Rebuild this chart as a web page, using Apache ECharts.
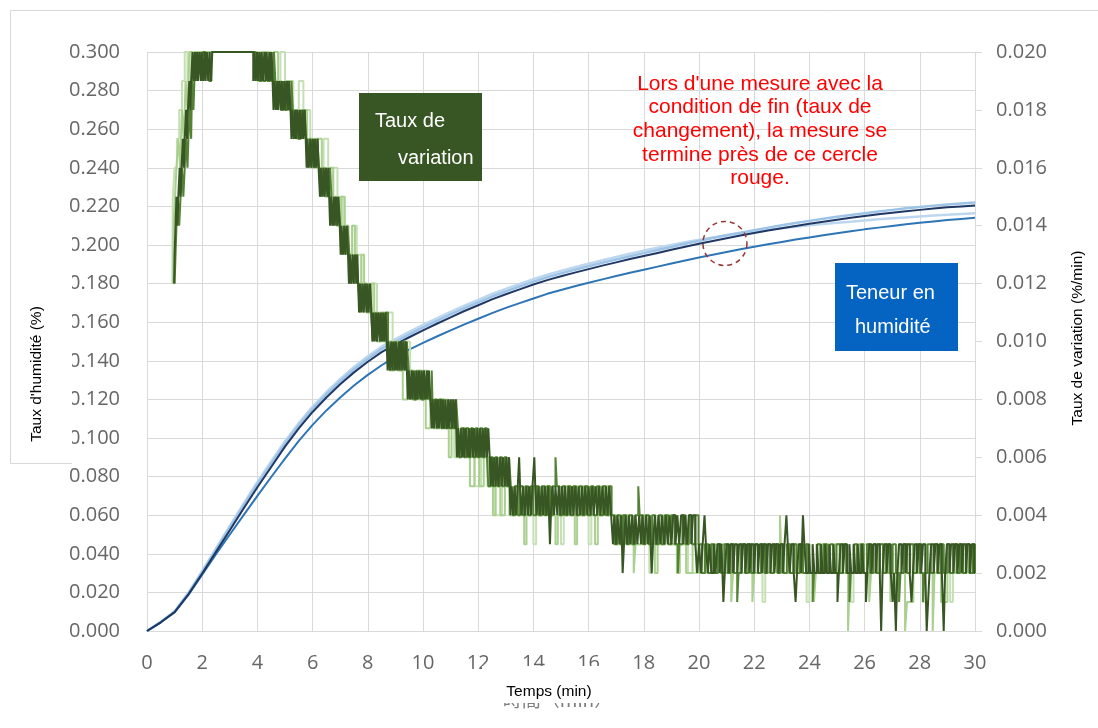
<!DOCTYPE html>
<html>
<head>
<meta charset="utf-8">
<script src="https://cdn.jsdelivr.net/npm/echarts@6/dist/echarts.min.js"></script>
<style>
  html, body { margin: 0; padding: 0; background: #ffffff; }
  #chart { width: 1098px; height: 728px; }
</style>
</head>
<body>
<div id="chart"></div>
<script>
// Sampling times of the moisture curves (min)
const minutes = [0,0.5,1,1.5,2,2.5,3,3.5,4,4.5,5,5.5,6,6.5,7,7.5,8,8.5,9,9.5,10,10.5,11,11.5,12,12.5,13,13.5,14,14.5,15,15.5,16,16.5,17,17.5,18,18.5,19,19.5,20,20.5,21,21.5,22,22.5,23,23.5,24,24.5,25,25.5,26,26.5,27,27.5,28,28.5,29,29.5,30];

// Moisture content (%) of the four runs
const moistureNavy = [0,0.0045,0.0098,0.0190,0.0298,0.0410,0.0522,0.0635,0.0745,0.0850,0.0955,0.1050,0.1135,0.1210,0.1278,0.1340,0.1395,0.1445,0.1485,0.1522,0.1558,0.1592,0.1625,0.1658,0.1688,0.1718,0.1745,0.1770,0.1795,0.1818,0.1838,0.1857,0.1875,0.1893,0.1910,0.1927,0.1943,0.1959,0.1975,0.1991,0.2006,0.2021,0.2035,0.2049,0.2062,0.2075,0.2087,0.2099,0.2110,0.2121,0.2131,0.2141,0.2150,0.2159,0.2167,0.2175,0.2182,0.2189,0.2195,0.2200,0.2205];
const moistureBlue = [0,0.0045,0.0097,0.0187,0.0292,0.0398,0.0500,0.0600,0.0700,0.0798,0.0893,0.0985,0.1068,0.1143,0.1210,0.1272,0.1327,0.1377,0.1420,0.1458,0.1493,0.1526,0.1558,0.1589,0.1618,0.1647,0.1674,0.1699,0.1723,0.1747,0.1767,0.1786,0.1804,0.1822,0.1839,0.1856,0.1872,0.1888,0.1904,0.1920,0.1935,0.1950,0.1964,0.1978,0.1991,0.2004,0.2016,0.2028,0.2039,0.2050,0.2061,0.2071,0.2081,0.2090,0.2099,0.2107,0.2115,0.2122,0.2129,0.2135,0.2141];
const moistureSky = [0,0.0046,0.0100,0.0195,0.0306,0.0422,0.0536,0.0650,0.0761,0.0866,0.0971,0.1066,0.1151,0.1226,0.1294,0.1356,0.1411,0.1461,0.1500,0.1537,0.1573,0.1607,0.1640,0.1673,0.1703,0.1733,0.1760,0.1785,0.1810,0.1833,0.1853,0.1872,0.1890,0.1908,0.1925,0.1942,0.1958,0.1974,0.1990,0.2006,0.2021,0.2036,0.2050,0.2064,0.2077,0.2090,0.2102,0.2114,0.2125,0.2136,0.2146,0.2156,0.2165,0.2174,0.2182,0.2190,0.2197,0.2204,0.2210,0.2215,0.2220];
const moisturePale = [0,0.0047,0.0102,0.0198,0.0310,0.0428,0.0544,0.0660,0.0772,0.0878,0.0983,0.1078,0.1163,0.1238,0.1306,0.1368,0.1423,0.1473,0.1513,0.1550,0.1586,0.1620,0.1653,0.1686,0.1716,0.1746,0.1773,0.1798,0.1823,0.1846,0.1866,0.1885,0.1903,0.1921,0.1938,0.1955,0.1971,0.1986,0.2000,0.2014,0.2027,0.2039,0.2050,0.2061,0.2070,0.2079,0.2087,0.2095,0.2102,0.2109,0.2115,0.2121,0.2127,0.2133,0.2138,0.2143,0.2148,0.2153,0.2157,0.2161,0.2165];

// Rate of change: change points [time (s), rate (0.001 %/min)], held until the next point
const rateDark = [
[59,12],[60,13],[62,14],[64,15],[66,14],[68,15],[71,16],[73,15],[75,16],[78,17],[80,16],[82,17],[85,18],[87,17],[89,18],[92,19],[94,18],[96,19],[99,20],[101,19],[104,20],[106,19],[109,20],[111,19],[114,20],[117,19],[119,20],[122,19],[125,20],[127,19],[130,20],[133,19],[136,20],[139,19],[142,20],
[231,19],[233,20],[236,19],[239,20],[241,19],[244,20],[247,19],[249,20],[252,19],[255,20],[258,19],[260,20],[263,19],[266,20],[268,19],[271,20],[273,19],
[275,18],[277,19],[280,18],[283,19],[285,18],[288,19],[291,18],[293,19],[296,18],[299,19],[301,18],[304,19],[307,18],[309,19],[312,18],
[314,17],[316,18],[319,17],[322,18],[324,17],[327,18],[330,17],[332,18],[335,17],[338,18],[340,17],[343,18],[345,17],
[347,16],[349,17],[352,16],[355,17],[357,16],[360,17],[363,16],[365,17],[368,16],[371,17],[373,16],
[376,15],[378,16],[381,15],[384,16],[386,15],[389,16],[392,15],[394,16],[396,15],
[398,14],[400,15],[403,14],[406,15],[408,14],[411,15],[414,14],[416,15],[419,14],
[421,13],[423,14],[426,13],[429,14],[431,13],[434,14],[437,13],
[439,12],[441,13],[444,12],[447,13],[449,12],[452,13],[455,12],[457,13],[459,12],
[461,11],[463,12],[466,11],[469,12],[471,11],[474,12],[477,11],[479,12],[482,11],[485,12],[488,11],
[490,10],[492,11],[495,10],[498,11],[500,10],[503,11],[506,10],[508,11],[511,10],[514,11],[516,10],[519,11],[521,10],
[523,9],[525,10],[528,9],[531,10],[533,9],[536,10],[539,9],[541,10],[544,9],[547,10],[549,9],[552,10],[555,9],[557,10],[560,9],[563,10],[565,9],
[567,8],[569,9],[572,8],[575,9],[577,8],[580,9],[583,8],[586,9],[588,8],[591,9],[594,8],[597,9],[599,8],[602,9],[605,8],[608,9],[610,8],[613,9],[616,8],
[619,7],[621,8],[624,7],[627,8],[630,7],[632,8],[635,7],[638,8],[641,7],[643,8],[646,7],[649,8],[652,7],[655,8],[657,7],[660,8],[663,7],[666,8],[669,7],[671,8],
[674,6],[676,7],[679,6],[682,7],[685,6],[688,7],[690,6],[693,7],[697,6],[700,7],[702,6],[706,7],[709,6],[711,7],[715,6],[718,7],[721,6],[724,7],[727,6],[730,7],[733,6],[736,7],[739,6],[742,7],[745,6],
[747,5],[749,6],[752,5],[755,6],[758,5],[761,6],[764,5],[768,6],[771,5],[774,6],[778,5],[781,6],[784,5],[787,6],
[790,4],[793,5],[796,4],[799,5],[802,4],[806,5],[809,6],[811,5],[814,4],[818,5],[821,4],[825,5],[828,4],[831,5],[835,4],[838,5],[842,6],[844,5],[847,4],[851,5],[854,4],[858,5],[861,4],[865,5],[868,4],[872,5],[876,3],[878,4],[881,5],[885,4],[888,5],[892,4],[895,5],[899,4],[902,5],[906,4],[909,5],[913,4],[917,5],[920,4],[924,5],[927,4],[931,5],[935,4],[938,5],[942,4],[946,5],[949,4],[953,5],[957,4],[960,5],[964,4],[968,5],[971,4],[975,5],[979,4],[983,5],[986,4],[990,5],[994,4],[998,5],[1001,4],[1005,5],[1009,4],
[1013,3],[1016,4],[1020,3],[1023,4],[1027,3],[1031,4],[1034,2],[1037,3],[1040,4],[1044,3],[1048,4],[1051,3],[1055,4],[1059,3],[1062,4],[1066,3],[1070,4],[1074,3],[1077,4],[1081,3],[1085,4],[1089,3],[1093,4],[1097,2],[1100,3],[1104,4],[1108,3],[1112,4],[1116,3],[1120,4],[1124,3],[1128,4],[1132,3],[1136,4],[1140,3],[1144,4],[1149,3],[1153,4],[1157,3],[1161,4],[1166,3],[1170,4],[1174,3],[1178,4],[1183,3],[1187,4],[1192,3],
[1196,2],[1200,3],[1204,2],[1208,3],[1212,4],[1215,3],[1219,2],[1223,3],[1227,2],[1232,3],[1236,2],[1240,3],[1245,2],[1249,3],[1253,1],[1256,2],[1260,3],[1265,2],[1269,3],[1274,2],[1278,3],[1283,2],[1287,3],[1292,2],[1296,3],[1301,2],[1305,3],[1310,2],[1314,3],[1319,2],[1323,3],[1328,2],[1332,3],[1337,2],[1341,3],[1346,2],[1350,3],[1355,2],[1359,3],[1364,2],[1368,3],[1373,2],[1377,3],[1382,2],[1386,3],[1390,4],[1393,3],[1397,2],[1401,3],[1406,2],[1410,1],[1413,2],[1417,3],[1422,2],[1426,4],[1429,3],[1433,2],[1438,3],[1442,2],[1447,3],[1451,2],[1456,3],[1460,2],[1465,3],[1469,2],[1474,3],[1478,2],[1483,3],[1487,2],[1492,3],[1496,2],[1501,1],[1504,2],[1508,3],[1513,2],[1517,3],[1522,2],[1527,3],[1531,2],[1536,3],[1540,2],[1545,3],[1549,2],[1554,3],[1558,2],[1563,1],[1566,2],[1570,3],[1575,2],[1579,3],[1584,2],[1588,3],[1593,2],[1596,0],[1599,2],[1603,3],[1608,2],[1612,3],[1617,2],[1621,1],[1624,2],[1628,0],[1631,2],[1635,3],[1640,2],[1644,3],[1649,2],[1653,3],[1658,2],[1662,1],[1665,2],[1669,3],[1674,2],[1678,3],[1683,2],[1687,3],[1692,2],[1695,0],[1698,1],[1701,2],[1705,3],[1710,2],[1714,3],[1719,2],[1723,3],[1728,2],[1732,0],[1735,2],[1739,3],[1744,2],[1748,3],[1753,2],[1757,3],[1762,2],[1766,3],[1771,2],[1775,3],[1780,2],[1784,3],[1789,2],[1793,3],[1798,2],[1800,2]
];
const rateMid = [
[60,12],[62,13],[64,14],[67,15],[70,14],[73,15],[76,16],[79,15],[82,16],[85,17],[88,16],[90,17],[93,18],[96,17],[98,19],[101,18],[103,19],[106,20],[110,19],[114,20],[118,19],[122,20],[127,19],[131,20],[135,19],[140,20],
[236,19],[240,20],[244,19],[249,20],[253,19],[258,20],[262,19],[267,20],[271,19],[276,20],[279,19],[283,18],[287,19],[291,18],[296,19],[300,18],[305,19],[309,18],[314,19],[317,18],[321,17],[325,18],[329,17],[334,18],[338,17],[342,18],[346,17],[350,16],[354,17],[358,16],[362,17],[366,16],[370,17],[374,16],[378,15],[382,16],[386,15],[390,16],[394,15],[398,16],[401,15],[404,14],[408,15],[412,14],[416,15],[420,14],[424,13],[428,14],[432,13],[436,14],[440,13],[443,12],[447,13],[451,12],[455,13],[459,12],[463,11],[467,12],[471,11],[475,12],[479,11],[483,12],[487,11],[491,10],[495,11],[499,10],[503,11],[507,10],[511,11],[515,10],[519,11],[524,10],[528,9],[532,10],[536,9],[540,10],[544,9],[548,10],[552,9],[556,10],[561,9],[565,10],[569,9],[572,8],[576,9],[580,8],[585,9],[589,8],[593,9],[597,8],[602,9],[606,8],[610,9],[614,8],[619,9],[622,7],[626,8],[631,7],[635,8],[640,7],[645,8],[649,7],[654,8],[658,7],[663,8],[667,7],[672,8],[676,7],[679,6],[684,7],[689,6],[694,7],[699,6],[704,7],[709,6],[714,7],[719,6],[724,7],[729,6],[734,7],[739,6],[742,5],[747,6],[752,5],[757,6],[762,5],[767,6],[772,5],[777,6],[782,5],[787,6],[791,5],
[795,4],[800,5],[806,4],[811,5],[817,4],[823,5],[829,4],[834,5],[840,4],[846,5],[852,4],[858,5],[864,4],[870,5],[876,4],[882,5],[888,6],[891,5],[897,4],[903,5],[909,4],[915,5],[921,4],[927,5],[933,4],[940,5],[946,4],[952,5],[958,4],[965,5],[971,4],[978,5],[984,4],[991,5],[997,4],[1004,5],[1010,4],
[1016,3],[1022,4],[1029,3],[1035,4],[1042,3],[1048,4],[1055,3],[1061,4],[1068,5],[1071,4],[1078,3],[1084,4],[1091,3],[1098,4],[1105,3],[1112,4],[1119,3],[1126,4],[1133,3],[1140,4],[1147,3],[1154,2],[1157,3],[1164,4],[1171,3],[1178,4],[1185,3],[1192,4],[1199,3],
[1206,2],[1213,3],[1220,2],[1227,3],[1234,2],[1241,3],[1248,2],[1255,3],[1262,2],[1269,3],[1276,2],[1283,1],[1286,2],[1293,3],[1300,2],[1307,3],[1314,2],[1321,3],[1328,2],[1335,3],[1342,2],[1349,3],[1356,2],[1363,3],[1370,2],[1377,3],[1384,2],[1391,3],[1398,2],[1405,3],[1412,2],[1419,3],[1426,2],[1433,3],[1440,2],[1447,1],[1450,2],[1457,3],[1464,2],[1471,3],[1478,2],[1485,3],[1492,2],[1499,3],[1506,2],[1513,3],[1520,2],[1527,1],[1530,2],[1537,3],[1544,2],[1551,3],[1558,2],[1565,3],[1572,2],[1579,3],[1586,2],[1593,3],[1600,2],[1607,3],[1614,2],[1621,3],[1628,2],[1635,1],[1638,2],[1645,3],[1652,2],[1659,3],[1666,2],[1673,3],[1680,2],[1687,1],[1690,2],[1697,3],[1704,2],[1711,3],[1718,2],[1725,3],[1732,2],[1739,3],[1746,2],[1753,3],[1760,2],[1767,3],[1774,2],[1781,3],[1788,2],[1795,3],[1800,2]
];
const rateLight = [
[57,12],[58,14],[61,15],[64,16],[68,17],[72,16],[76,18],[80,17],[84,19],[88,18],[92,20],[98,19],[104,20],
[240,19],[250,20],[262,19],[275,20],[285,19],[292,18],[302,19],[315,18],[326,17],[335,18],[348,17],[358,16],[368,17],[380,16],[388,15],[398,16],[405,15],[412,14],[422,15],[430,14],[438,13],[446,14],[452,13],[458,12],[466,13],[472,12],[478,11],[487,12],[494,11],[500,10],[510,11],[518,10],[528,9],[538,10],[546,9],[556,8],[566,9],[576,8],[586,9],[596,8],[606,7],[616,8],[626,7],[636,8],[646,7],[656,6],[662,7],[672,6],[682,7],[692,6],[702,5],[712,6],[722,5],[732,6],[742,5],[752,4],[758,5],[768,4],[778,5],[788,4],[798,5],[808,4],[820,3],[825,4],[838,5],[850,4],[862,5],[876,4],[888,3],[893,4],[906,5],[918,4],[930,3],[935,4],[948,5],[960,4],[974,3],[980,4],[994,5],[1006,4],[1018,3],[1030,4],[1045,3],[1058,2],[1062,3],[1076,4],[1090,3],[1104,2],[1110,3],[1124,4],[1138,3],[1152,2],[1158,3],[1172,2],[1186,3],[1200,2],[1214,3],[1228,2],[1242,3],[1256,2],[1270,1],[1274,2],[1288,3],[1302,2],[1316,1],[1320,2],[1334,3],[1348,2],[1362,3],[1376,4],[1380,2],[1394,3],[1408,2],[1422,3],[1436,2],[1450,1],[1454,2],[1468,3],[1482,2],[1496,3],[1510,2],[1524,0],[1528,2],[1542,3],[1556,2],[1570,1],[1574,2],[1588,3],[1602,2],[1616,1],[1620,2],[1634,3],[1648,0],[1652,1],[1666,2],[1680,3],[1694,2],[1708,0],[1712,2],[1726,1],[1740,2],[1754,3],[1768,2],[1782,3],[1786,2],[1800,3]
];
const ratePale = [
[55,12],[56,15],[60,16],[65,17],[70,18],[76,19],[82,20],[88,19],[94,20],
[270,19],[290,20],[300,19],[318,18],[330,19],[340,18],[355,17],[370,16],[384,17],[394,15],[404,16],[414,15],[426,14],[436,13],[446,14],[456,13],[466,12],[478,11],[490,12],[500,11],[512,10],[524,11],[534,10],[546,9],[560,10],[572,9],[582,8],[598,9],[610,8],[624,7],[640,8],[654,7],[668,6],[684,7],[698,6],[712,5],[726,6],[740,5],[756,4],[772,5],[788,4],[804,5],[822,4],[840,3],[846,4],[864,5],[882,4],[900,3],[906,4],[924,5],[942,4],[960,3],[966,4],[984,5],[1002,4],[1020,3],[1038,4],[1056,3],[1074,4],[1092,2],[1098,3],[1116,4],[1134,3],[1152,2],[1158,3],[1176,2],[1194,3],[1212,2],[1230,3],[1248,2],[1266,3],[1284,2],[1302,3],[1320,2],[1338,1],[1344,2],[1362,3],[1380,2],[1398,3],[1416,2],[1434,1],[1440,2],[1458,3],[1476,2],[1494,3],[1512,2],[1530,1],[1536,2],[1554,3],[1572,2],[1590,3],[1608,2],[1626,1],[1632,2],[1650,3],[1668,2],[1686,1],[1692,2],[1710,3],[1728,2],[1746,1],[1752,2],[1770,3],[1788,2],[1794,3],[1800,3]
];

// Point on the navy curve where an end-condition run stops
const endPoint = [20.94, 0.2008];

const noteLines = [
  "Lors d'une mesure avec la",
  "condition de fin (taux de",
  "changement), la mesure se",
  "termine près de ce cercle",
  "rouge."
];

const curve = ys => minutes.map((t, i) => [t, ys[i]]);
const steps = pts => pts.map(p => [p[0] / 60, p[1] / 1000]);

const AXIS_FONT = '"Open Sans", "Noto Sans", sans-serif';
const TEXT_FONT = '"Liberation Sans", Arial, sans-serif';

function moistureSeries(name, ys, color, width) {
  return {
    name, type: 'line', data: curve(ys), yAxisIndex: 0,
    showSymbol: false, smooth: false, silent: true,
    lineStyle: { color, width }, z: 2
  };
}
function rateSeries(name, pts, color) {
  return {
    name, type: 'line', data: steps(pts), yAxisIndex: 1, step: 'end',
    showSymbol: false, silent: true,
    lineStyle: { color, width: 2 }, z: 3
  };
}

const navy = moistureSeries('Humidité 1', moistureNavy, '#1f3864', 2);
navy.markPoint = {
  silent: true, symbol: 'circle', symbolSize: 44,
  label: { show: false },
  itemStyle: { color: 'rgba(0,0,0,0)', borderColor: '#953735', borderWidth: 1.5, borderType: [5, 4] },
  data: [{ coord: endPoint }]
};

const noteGraphics = noteLines.map((txt, i) => ({
  type: 'text', x: 760, y: 84 + i * 23.6, z: 110,
  style: { text: txt, fill: '#ff0000', fontSize: 21, fontFamily: TEXT_FONT, textAlign: 'center', textVerticalAlign: 'middle' }
}));

const chart = echarts.init(document.getElementById('chart'), null, { renderer: 'canvas' });
chart.setOption({
  animation: false,
  backgroundColor: '#ffffff',
  grid: { left: 147, right: 123, top: 52, bottom: 97, containLabel: false },
  xAxis: {
    type: 'value', min: 0, max: 30, interval: 2,
    axisLine: { show: true, lineStyle: { color: '#d9d9d9' } },
    axisTick: { show: false },
    splitLine: { show: true, lineStyle: { color: '#d9d9d9', width: 1 } },
    axisLabel: { color: '#666666', fontSize: 20, fontFamily: AXIS_FONT, margin: 22 }
  },
  yAxis: [
    {
      type: 'value', min: 0, max: 0.3, interval: 0.02, position: 'left',
      axisLine: { show: false }, axisTick: { show: false },
      splitLine: { show: true, lineStyle: { color: '#d9d9d9', width: 1 } },
      axisLabel: { color: '#666666', fontSize: 20, fontFamily: AXIS_FONT, margin: 27, formatter: v => v.toFixed(3) }
    },
    {
      type: 'value', min: 0, max: 0.02, interval: 0.002, position: 'right',
      axisLine: { show: false },
      axisTick: { show: true, length: 7, lineStyle: { color: '#d9d9d9' } },
      splitLine: { show: false },
      axisLabel: { color: '#666666', fontSize: 20, fontFamily: AXIS_FONT, margin: 21, formatter: v => v.toFixed(3) }
    }
  ],
  series: [
    moistureSeries('Humidité 4', moisturePale, '#bdd7ee', 2.5),
    moistureSeries('Humidité 3', moistureSky, '#9dc3e6', 2.5),
    moistureSeries('Humidité 2', moistureBlue, '#2e75b6', 2),
    navy,
    rateSeries('Variation 4', ratePale, '#c5e0b4'),
    rateSeries('Variation 3', rateLight, '#a9d08e'),
    rateSeries('Variation 2', rateMid, '#548235'),
    rateSeries('Variation 1', rateDark, '#375623')
  ],
  graphic: {
    elements: [
      // frame of the chart area
      { type: 'polyline', z: 100, shape: { points: [[10.5, 463.5], [10.5, 10.5], [1098, 10.5]] }, style: { stroke: '#d9d9d9', lineWidth: 1, fill: null } },
      // box holding the left axis title
      { type: 'rect', z: 100, shape: { x: 11, y: 231, width: 61, height: 232 }, style: { fill: '#ffffff' } },
      { type: 'polyline', z: 101, shape: { points: [[10.5, 463.5], [72, 463.5]] }, style: { stroke: '#d9d9d9', lineWidth: 1, fill: null } },
      { type: 'text', z: 102, x: 37, y: 374, rotation: Math.PI / 2,
        style: { text: "Taux d'humidité (%)", fill: '#000000', fontSize: 15.5, fontFamily: TEXT_FONT, textAlign: 'center', textVerticalAlign: 'middle' } },
      // right axis title
      { type: 'text', z: 102, x: 1078, y: 338, rotation: Math.PI / 2,
        style: { text: 'Taux de variation (%/min)', fill: '#000000', fontSize: 15.5, fontFamily: TEXT_FONT, textAlign: 'center', textVerticalAlign: 'middle' } },
      // bottom axis title, laid over an older title
      { type: 'text', z: 100, x: 558, y: 700,
        style: { text: '時間（min）', fill: '#7f7f7f', fontSize: 19, fontFamily: '"Noto Sans CJK JP", sans-serif', textAlign: 'center', textVerticalAlign: 'middle' } },
      { type: 'rect', z: 101, shape: { x: 482, y: 666, width: 133, height: 37 }, style: { fill: '#ffffff' } },
      { type: 'text', z: 102, x: 549, y: 692,
        style: { text: 'Temps (min)', fill: '#000000', fontSize: 15.5, fontFamily: TEXT_FONT, textAlign: 'center', textVerticalAlign: 'middle' } },
      // series tags
      { type: 'rect', z: 105, shape: { x: 359, y: 93, width: 123, height: 88 }, style: { fill: '#375623' } },
      { type: 'text', z: 106, x: 375, y: 121,
        style: { text: 'Taux de', fill: '#ffffff', fontSize: 20, fontFamily: TEXT_FONT, textAlign: 'left', textVerticalAlign: 'middle' } },
      { type: 'text', z: 106, x: 398, y: 158,
        style: { text: 'variation', fill: '#ffffff', fontSize: 20, fontFamily: TEXT_FONT, textAlign: 'left', textVerticalAlign: 'middle' } },
      { type: 'rect', z: 105, shape: { x: 835, y: 263, width: 123, height: 88 }, style: { fill: '#0563c1' } },
      { type: 'text', z: 106, x: 846, y: 293,
        style: { text: 'Teneur en', fill: '#ffffff', fontSize: 20, fontFamily: TEXT_FONT, textAlign: 'left', textVerticalAlign: 'middle' } },
      { type: 'text', z: 106, x: 855, y: 327,
        style: { text: 'humidité', fill: '#ffffff', fontSize: 20, fontFamily: TEXT_FONT, textAlign: 'left', textVerticalAlign: 'middle' } }
    ].concat(noteGraphics)
  }
});
</script>
</body>
</html>
